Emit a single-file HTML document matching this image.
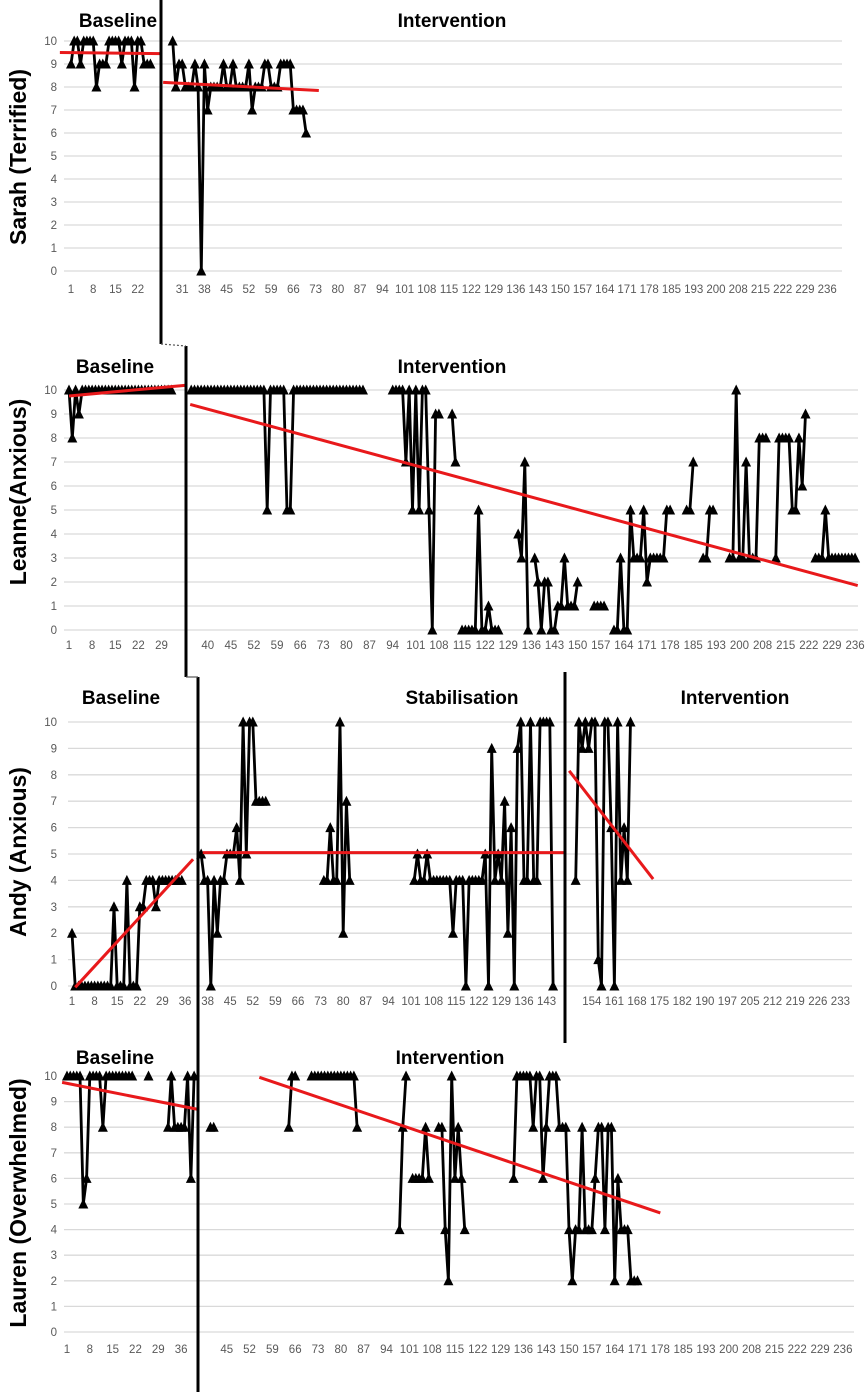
<!DOCTYPE html>
<html><head><meta charset="utf-8"><title>Single-case anxiety ratings</title>
<style>
html,body{margin:0;padding:0;background:#fff;}
svg{display:block;font-family:"Liberation Sans",sans-serif;}
.tick{font-size:11.5px;fill:#595959;}
.phase{font-size:19px;font-weight:bold;fill:#000;}
.ytitle{font-size:23px;font-weight:bold;fill:#000;}
</style></head>
<body>
<svg id="chart" width="866" height="1396" viewBox="0 0 866 1396" xmlns="http://www.w3.org/2000/svg"></svg>
<script>
// ---------- data ----------
const yTicks = [0,1,2,3,4,5,6,7,8,9,10];

const sarahLabels = ["1","8","15","22","","31","38","45","52","59","66","73","80","87","94","101","108","115","122","129","136","143","150","157","164","171","178","185","193","200","208","215","222","229","236"];
const sarahStarts = [0, 32];
const sarahValues = [
  [9,10,10,9,10,10,10,10,8,9,9,9,10,10,10,10,9,10,10,10,8,10,10,9,9,9],
  [10,8,9,9,8,8,8,9,8,0,9,7,8,8,8,8,9,8,8,9,8,8,8,8,9,7,8,8,8,9,9,8,8,8,9,9,9,9,7,7,7,7,6]
];
const sarahTrendIdx = [[-3.5,28.4],[29,78]];
const sarahTrendVal = [[9.5,9.45],[8.2,7.85]];

const leanneLabels = ["1","8","15","22","29","","40","45","52","59","66","73","80","87","94","101","108","115","122","129","136","143","150","157","164","171","178","185","193","200","208","215","222","229","236"];
const leanneStarts = [0, 37, 98, 116, 119, 136, 141, 159, 165, 187, 192, 200, 214, 226, 228];
const leanneValues = [
  [10,8,10,9,10,10,10,10,10,10,10,10,10,10,10,10,10,10,10,10,10,10,10,10,10,10,10,10,10,10,10,10],
  [10,10,10,10,10,10,10,10,10,10,10,10,10,10,10,10,10,10,10,10,10,10,10,5,10,10,10,10,10,5,5,10,10,10,10,10,10,10,10,10,10,10,10,10,10,10,10,10,10,10,10,10,10],
  [10,10,10,10,7,10,5,10,5,10,10,5,0,9,9],
  [9,7],
  [0,0,0,0,0,5,0,0,1,0,0,0],
  [4,3,7,0],
  [3,2,0,2,2,0,0,1,1,3,1,1,1,2],
  [1,1,1,1],
  [0,0,3,0,0,5,3,3,3,5,2,3,3,3,3,3,5,5],
  [5,5,7],
  [3,3,5,5],
  [3,3,10,3,3,7,3,3,3,8,8,8],
  [3,8,8,8,8,5,5,8,6,9],
  [3,3],
  [3,5,3,3,3,3,3,3,3,3,3]
];
const leanneTrendIdx = [[0,35.5],[36.7,238.8]];
const leanneTrendVal = [[9.75,10.2],[9.4,1.85]];

const andyLabels = ["1","8","15","22","29","36","38","45","52","59","66","73","80","87","94","101","108","115","122","129","136","143","","154","161","168","175","182","190","197","205","212","219","226","233"];
const andyStarts = [0, 40, 78, 106, 156];
const andyValues = [
  [2,0,0,0,0,0,0,0,0,0,0,0,0,3,0,0,0,4,0,0,0,3,3,4,4,4,3,4,4,4,4,4,4,4,4],
  [5,4,4,0,4,2,4,4,5,5,5,6,4,10,5,10,10,7,7,7,7],
  [4,4,6,4,4,10,2,7,4],
  [4,5,4,4,5,4,4,4,4,4,4,4,2,4,4,4,0,4,4,4,4,4,5,0,9,4,5,4,7,2,6,0,9,10,4,4,10,4,4,10,10,10,10,0],
  [4,10,9,10,9,10,10,1,0,10,10,6,0,10,4,6,4,10]
];
const andyTrendIdx = [[1,37.5],[40.5,152.6],[154,180]];
const andyTrendVal = [[-0.05,4.8],[5.05,5.05],[8.15,4.05]];

const laurenLabels = ["1","8","15","22","29","36","","45","52","59","66","73","80","87","94","101","108","115","122","129","136","143","150","157","164","171","178","185","193","200","208","215","222","229","236"];
const laurenStarts = [0, 25, 31, 44, 68, 75, 102, 106, 114, 137];
const laurenValues = [
  [10,10,10,10,10,5,6,10,10,10,10,8,10,10,10,10,10,10,10,10,10],
  [10],
  [8,10,8,8,8,8,10,6,10],
  [8,8],
  [8,10,10],
  [10,10,10,10,10,10,10,10,10,10,10,10,10,10,8],
  [4,8,10],
  [6,6,6,6,8,6],
  [8,8,4,2,10,6,8,6,4],
  [6,10,10,10,10,10,8,10,10,6,8,10,10,10,8,8,8,4,2,4,4,8,4,4,4,6,8,8,4,8,8,2,6,4,4,4,2,2,2]
];
const laurenTrendIdx = [[-1.5,40],[59,182]];
const laurenTrendVal = [[9.75,8.7],[9.95,4.65]];

// ---------- drawing ----------
const NS = "http://www.w3.org/2000/svg";
const svg = document.getElementById("chart");
function mk(tag, attrs, parent){
  const e = document.createElementNS(NS, tag);
  for (const k in attrs) e.setAttribute(k, attrs[k]);
  (parent||svg).appendChild(e);
  return e;
}

function drawPanel(p){
  const g = mk("g", {});
  
  
  const step = p.labelStep / 7;
  const xs = i => p.x0 + i * step;
  const ys = v => p.y0 - v * (p.y0 - p.y10) / 10;

  yTicks.forEach(t => {
    const gl = mk("line", {x1:p.gridL, x2:p.gridR, y1:ys(t), y2:ys(t), stroke:"#d9d9d9", "stroke-width":1.3}, g);
    
    
    const tl = mk("text", {x:57, y:ys(t)+4, "text-anchor":"end", class:"tick"}, g);
    tl.textContent = t;
    
    
  });
  p.labels.forEach((l, k) => {
    if (!l) return;
    const tx = mk("text", {x:xs(7*k), y:p.labelY, "text-anchor":"middle", class:"tick"}, g);
    tx.textContent = l;
    
    
  });

  p.starts.forEach((s, si) => {
    const vals = p.values[si];
    const pts = vals.map((v, j) => xs(s + j).toFixed(1) + "," + ys(v).toFixed(1)).join(" ");
    if (vals.length > 1) {
      const pl = mk("polyline", {points:pts, fill:"none", stroke:"#000", "stroke-width":2.8, "stroke-linejoin":"miter", "stroke-miterlimit":3}, g);
      
      
    }
    vals.forEach((v, j) => {
      const cx = xs(s + j), cy = ys(v);
      const tri = mk("polygon", {points:`${cx-5},${cy+4.5} ${cx+5},${cy+4.5} ${cx},${cy-5.5}`, fill:"#000"}, g);
      
      
    });
  });

  p.trendIdx.forEach((ti, k) => {
    const tv = p.trendVal[k];
    const tl = mk("line", {x1:xs(ti[0]), y1:ys(tv[0]), x2:xs(ti[1]), y2:ys(tv[1]), stroke:"#e8191b", "stroke-width":3}, g);
    
    
  });

  p.phases.forEach(ph => {
    const t = mk("text", {x:ph[1], y:p.phaseY, "text-anchor":"middle", class:"phase"}, g);
    t.textContent = ph[0];
    
    
  });

  const yt = mk("text", {x:0, y:0, "text-anchor":"middle", class:"ytitle", transform:`translate(26,${p.titleY}) rotate(-90)`}, g);
  yt.textContent = p.title;
  
  
}

drawPanel({name:"sarah", title:"Sarah (Terrified)", titleY:157, x0:71, labelStep:22.24, y10:41, y0:271, gridL:64, gridR:842, labelY:293,
  labels:sarahLabels, starts:sarahStarts, values:sarahValues, trendIdx:sarahTrendIdx, trendVal:sarahTrendVal,
  phaseY:27, phases:[["Baseline",118],["Intervention",452]]});
drawPanel({name:"leanne", title:"Leanne(Anxious)", titleY:492, x0:69, labelStep:23.12, y10:390, y0:630, gridL:64, gridR:858, labelY:649,
  labels:leanneLabels, starts:leanneStarts, values:leanneValues, trendIdx:leanneTrendIdx, trendVal:leanneTrendVal,
  phaseY:373, phases:[["Baseline",115],["Intervention",452]]});
drawPanel({name:"andy", title:"Andy (Anxious)", titleY:852, x0:72, labelStep:22.6, y10:722, y0:986, gridL:68, gridR:852, labelY:1005,
  labels:andyLabels, starts:andyStarts, values:andyValues, trendIdx:andyTrendIdx, trendVal:andyTrendVal,
  phaseY:704, phases:[["Baseline",121],["Stabilisation",462],["Intervention",735]]});
drawPanel({name:"lauren", title:"Lauren (Overwhelmed)", titleY:1203, x0:67, labelStep:22.82, y10:1076, y0:1332, gridL:64, gridR:854, labelY:1353,
  labels:laurenLabels, starts:laurenStarts, values:laurenValues, trendIdx:laurenTrendIdx, trendVal:laurenTrendVal,
  phaseY:1064, phases:[["Baseline",115],["Intervention",450]]});

// phase-change lines
const phaseLines = [
  [161,0,161,344],[186,346,186,652],[198,677,198,1392],[565,672,565,1043]
];
phaseLines.forEach(l => {
  const ln = mk("line", {x1:l[0], y1:l[1], x2:l[2], y2:l[3], stroke:"#000", "stroke-width":3});
  
  
});
const conn = mk("line", {x1:161, y1:344, x2:186, y2:346, stroke:"#555", "stroke-width":1.2, "stroke-dasharray":"2,2"});


const conn2 = mk("line", {x1:186, y1:652, x2:186, y2:677, stroke:"#000", "stroke-width":3});


const conn3 = mk("line", {x1:186, y1:677, x2:198, y2:677, stroke:"#555", "stroke-width":1.2});


</script>
</body></html>
